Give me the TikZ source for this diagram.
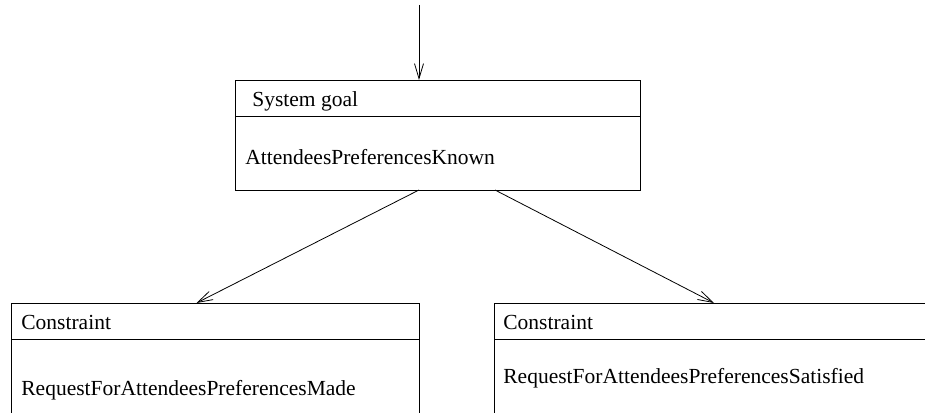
\documentclass[tikz,border=0pt]{standalone}
\usepackage{fontspec}
\setmainfont{Liberation Serif}
\usetikzlibrary{arrows.meta}
\begin{document}
\begin{tikzpicture}[x=1pt,y=-1pt,line width=0.8pt,
  >={Straight Barb[length=15pt,width=9pt]},
  box/.style={rectangle,draw=black,inner sep=0pt,outer sep=0pt},
  boxtext/.style={anchor=base west,inner sep=0pt,font=\fontsize{21.5}{24}\selectfont}]
\useasboundingbox (0,0) rectangle (925,412);
\clip (0,0) rectangle (925,412);
\node[box,minimum width=405,minimum height=36] (goalhead) at (437.5,98) {};
\node[box,minimum width=405,minimum height=74] (goalbody) at (437.5,153) {};
\node[boxtext] (goaltype) at (252,106) {System goal};
\node[boxtext] (goalname) at (245,164) {AttendeesPreferencesKnown};
\node[box,minimum width=408,minimum height=36] (madehead) at (215.5,321) {};
\node[box,minimum width=408,minimum height=120] (madebody) at (215.5,399) {};
\node[boxtext] (madetype) at (21,329) {Constraint};
\node[boxtext] (madename) at (21,395) {RequestForAttendeesPreferencesMade};
\node[box,minimum width=450,minimum height=36] (sathead) at (719,321) {};
\node[box,minimum width=450,minimum height=120] (satbody) at (719,399) {};
\node[boxtext] (sattype) at (503,329) {Constraint};
\node[boxtext] (satname) at (503,383) {RequestForAttendeesPreferencesSatisfied};
\coordinate (in) at (419,5);
\draw[->] (in)--(in |- goalhead.north);
\draw[->] (419,0 |- goalbody.south)--(196.5,0 |- madehead.north);
\draw[->] (495,0 |- goalbody.south)--(714,0 |- sathead.north);
\end{tikzpicture}
\end{document}
